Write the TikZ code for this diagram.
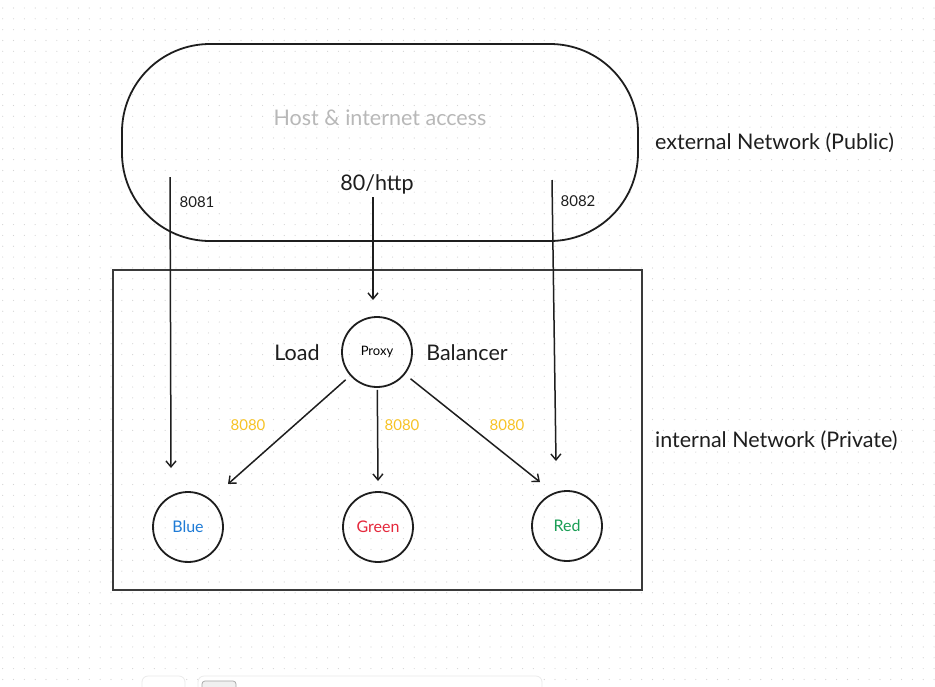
\documentclass[tikz,border=0pt]{standalone}
\usepackage{fontspec}
\setmainfont{Lato}
\usetikzlibrary{arrows.meta}
\definecolor{ink}{HTML}{1E1E1E}
\definecolor{boxline}{HTML}{3A3A3A}
\definecolor{hostgray}{HTML}{B8B8B8}
\definecolor{bluetxt}{HTML}{1E7BD6}
\definecolor{redtxt}{HTML}{E5283C}
\definecolor{greentxt}{HTML}{1A9E55}
\definecolor{portyellow}{HTML}{F7C325}
\definecolor{dotgray}{HTML}{D4D4D4}
\tikzset{
  svc/.style={circle, draw=ink, line width=1.8pt, minimum size=70pt, inner sep=0pt, font=\fontsize{16}{18}\selectfont},
  arr/.style={draw=ink, line width=1.5pt, -{Straight Barb[length=6pt,width=10pt,line width=1.4pt]}},
  big/.style={font=\fontsize{21.5}{25}\selectfont, text=ink, inner sep=0pt},
  small/.style={font=\fontsize{15}{17}\selectfont, text=ink, inner sep=0pt},
  port/.style={font=\fontsize{15}{17}\selectfont, text=portyellow, inner sep=0pt},
  uibox/.style={draw=black!8, fill=white, rounded corners=6pt, line width=0.8pt}
}
\begin{document}
\begin{tikzpicture}[x=1pt, y=-1pt]
\useasboundingbox (0,0) rectangle (935,686);
\fill[white] (0,0) rectangle (935,686);
% dotted grid
\foreach \i in {0,...,86} {
  \foreach \j in {0,...,63} {
    \fill[dotgray] ({2.7+10.83*\i},{8+10.83*\j}) circle (0.6pt);
  }
}
% external network pill
\node[draw=ink, line width=1.8pt, rounded corners=88pt, minimum width=516pt, minimum height=197pt, inner sep=0pt] (host) at (380,142.5) {};
\node[font=\fontsize{21.5}{25}\selectfont, text=hostgray, inner sep=0pt] (hosttxt) at (380,118) {Host \& internet access};
\node[big] (http) at (377,184) {80/http};
\node[small] (p8081) at (197,202) {8081};
\node[small] (p8082) at (578,201) {8082};
\node[big, anchor=west] (ext) at (655,143) {external Network (Public)};
% internal network box
\node[draw=boxline, line width=1.8pt, minimum width=529pt, minimum height=320pt, inner sep=0pt] (internal) at (377.5,430) {};
\node[big, anchor=west] (int) at (655,441) {internal Network (Private)};
% proxy
\node[svc, font=\fontsize{13}{15}\selectfont] (proxy) at (377,352) {Proxy};
\node[big] (load) at (297,353) {Load};
\node[big] (bal) at (467,353) {Balancer};
% services
\node[svc, text=bluetxt] (blue) at (188,527) {Blue};
\node[svc, text=redtxt] (green) at (378,527) {Green};
\node[svc, text=greentxt] (red) at (567,526) {Red};
% port labels
\node[port] (y1) at (248,425) {8080};
\node[port] (y2) at (402,425) {8080};
\node[port] (y3) at (507,425) {8080};
% free ends
\coordinate (s8081) at (170,177);
\coordinate (e8081) at (171,468);
\coordinate (shttp) at (373,197);
\coordinate (ehttp) at (373,300);
\coordinate (s8082) at (552,180);
\coordinate (e8082) at (556,461);
\coordinate (tblue) at (228,484);
\coordinate (tgreen) at (378,481);
\coordinate (tred) at (540,482);
% connectors
\draw[arr] (s8081) -- (e8081);
\draw[arr] (shttp) -- (ehttp);
\draw[arr] (s8082) -- (e8082);
\draw[arr, shorten <=6pt] (proxy) -- (tblue);
\draw[arr, shorten <=2pt] (proxy) -- (tgreen);
\draw[arr, shorten <=7pt] (proxy) -- (tred);
% partial toolbar at bottom edge
\draw[uibox] (142,676) rectangle (185,700);
\draw[uibox] (198,676) rectangle (542,700);
\draw[draw=black!35, fill=black!6, rounded corners=3pt, line width=0.7pt] (202,681) rectangle (236,700);
\end{tikzpicture}
\end{document}
